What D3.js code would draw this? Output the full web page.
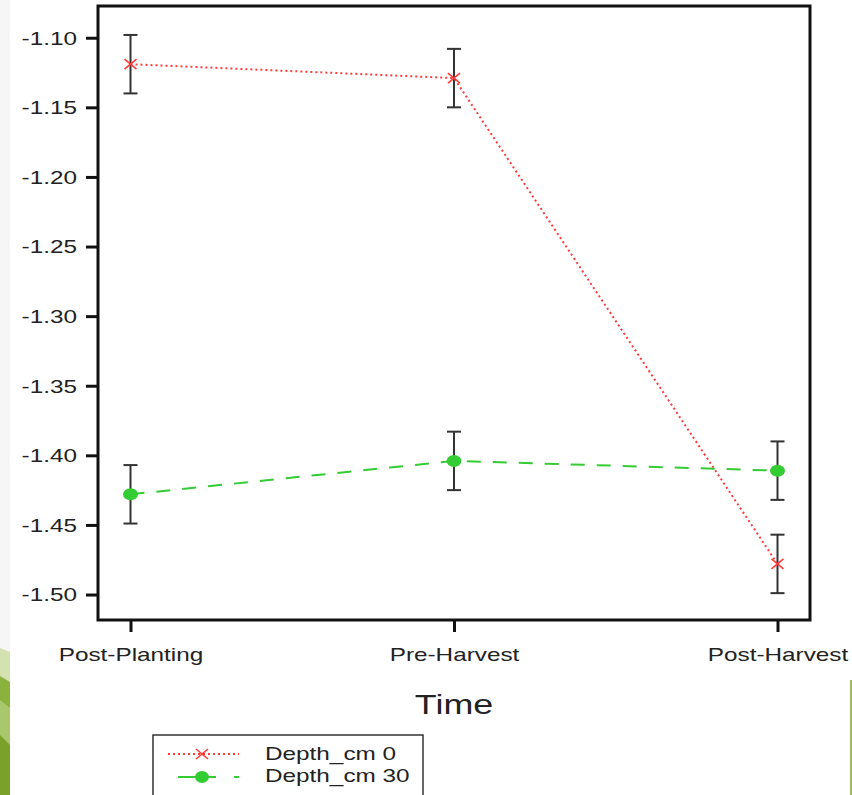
<!DOCTYPE html>
<html>
<head>
<meta charset="utf-8">
<script src="https://cdn.jsdelivr.net/npm/d3@7"></script>
<style>
  html, body { margin: 0; padding: 0; background: #fff; }
  svg { display: block; }
  text { font-family: "Liberation Sans", Arial, sans-serif; fill: #222; }
</style>
</head>
<body>
<script>
// Estimated marginal means by sampling time and depth
const categories = ["Post-Planting", "Pre-Harvest", "Post-Harvest"];
const depth0 = [-1.119, -1.129, -1.478];
const depth30 = [-1.428, -1.404, -1.411];
const err0 = [0.021, 0.021, 0.021];
const err30 = [0.021, 0.021, 0.021];
const yTicks = [-1.10, -1.15, -1.20, -1.25, -1.30, -1.35, -1.40, -1.45, -1.50];
const seriesNames = ["Depth_cm 0", "Depth_cm 30"];

const W = 852, H = 795;
const SX = 1.28; // horizontal text stretch
const box = { left: 98, top: 6, right: 810, bottom: 620 };

const svg = d3.select("body").append("svg")
  .attr("width", W).attr("height", H);

// page background and edge decoration
svg.append("rect").attr("width", W).attr("height", H).attr("fill", "#ffffff");
svg.append("rect").attr("x", 0).attr("y", 0).attr("width", 10).attr("height", H).attr("fill", "#f6f6f6");
const deco = svg.append("g");
deco.append("path").attr("d", "M0,648 L10,652 L10,795 L0,795 Z").attr("fill", "#d3e2b0");
deco.append("path").attr("d", "M0,676 L10,682 L10,795 L0,795 Z").attr("fill", "#8cb23e");
deco.append("path").attr("d", "M0,700 L10,708 L10,750 L0,742 Z").attr("fill", "#a9c76c");
deco.append("path").attr("d", "M0,735 L10,745 L10,795 L0,795 Z").attr("fill", "#7aa12a");
deco.append("rect").attr("x", 850).attr("y", 680).attr("width", 2).attr("height", 115).attr("fill", "#9cbc5c");

const x = d3.scalePoint().domain(categories).range([130.5, 777.5]);
const y = d3.scaleLinear().domain([-1.5183, -1.0772]).range([box.bottom, box.top]);

// frame
svg.append("rect")
  .attr("x", box.left).attr("y", box.top)
  .attr("width", box.right - box.left).attr("height", box.bottom - box.top)
  .attr("fill", "none").attr("stroke", "#111").attr("stroke-width", 3);

// y axis
const yAxis = svg.append("g")
  .attr("transform", `translate(${box.left},0)`)
  .call(d3.axisLeft(y).tickValues(yTicks).tickSize(12).tickSizeOuter(0)
    .tickFormat(d => d.toFixed(2)));
yAxis.select(".domain").remove();
yAxis.selectAll(".tick line").attr("stroke", "#111").attr("stroke-width", 3);
yAxis.selectAll(".tick text")
  .attr("x", -21 / SX).attr("dy", "0.34em")
  .attr("transform", `scale(${SX},1)`)
  .style("font-size", "19px").style("font-family", "Liberation Sans, Arial, sans-serif")
  .attr("fill", "#222");

// x axis
const xAxis = svg.append("g")
  .attr("transform", `translate(0,${box.bottom})`)
  .call(d3.axisBottom(x).tickSize(12).tickSizeOuter(0));
xAxis.select(".domain").remove();
xAxis.selectAll(".tick line").attr("stroke", "#111").attr("stroke-width", 3);
xAxis.selectAll(".tick text")
  .attr("y", 41).attr("dy", 0)
  .attr("transform", `scale(${SX},1)`)
  .style("font-size", "19px").style("font-family", "Liberation Sans, Arial, sans-serif")
  .attr("fill", "#222");

// axis title
svg.append("text")
  .attr("transform", `translate(454,714) scale(${SX},1)`)
  .attr("text-anchor", "middle")
  .style("font-size", "28px")
  .text("Time");

const red = "#ff3b3b", green = "#33cc33";

// connecting lines
const line = d3.line().x((d, i) => x(categories[i])).y(d => y(d));
svg.append("path").datum(depth0).attr("d", line)
  .attr("fill", "none").attr("stroke", red).attr("stroke-width", 2)
  .attr("stroke-dasharray", "2,3");
svg.append("path").datum(depth30).attr("d", line)
  .attr("fill", "none").attr("stroke", green).attr("stroke-width", 2)
  .attr("stroke-dasharray", "14,12");

// error bars
function errorBars(vals, errs) {
  const g = svg.append("g").attr("stroke", "#333").attr("stroke-width", 2);
  vals.forEach((v, i) => {
    const cx = x(categories[i]);
    const y1 = y(v + errs[i]), y2 = y(v - errs[i]);
    g.append("line").attr("x1", cx).attr("x2", cx).attr("y1", y1).attr("y2", y2);
    g.append("line").attr("x1", cx - 7).attr("x2", cx + 7).attr("y1", y1).attr("y2", y1);
    g.append("line").attr("x1", cx - 7).attr("x2", cx + 7).attr("y1", y2).attr("y2", y2);
  });
}
errorBars(depth0, err0);
errorBars(depth30, err30);

// markers
function cross(g, cx, cy) {
  g.append("path")
    .attr("d", `M${cx - 6},${cy - 5}L${cx + 6},${cy + 5}M${cx - 6},${cy + 5}L${cx + 6},${cy - 5}`)
    .attr("stroke", red).attr("stroke-width", 1.6).attr("fill", "none");
}
const mk = svg.append("g");
depth0.forEach((v, i) => cross(mk, x(categories[i]), y(v)));
depth30.forEach((v, i) => {
  mk.append("ellipse").attr("cx", x(categories[i])).attr("cy", y(v))
    .attr("rx", 7.5).attr("ry", 6).attr("fill", green);
});

// legend
const lg = svg.append("g");
lg.append("rect").attr("x", 153).attr("y", 735).attr("width", 270).attr("height", 80)
  .attr("fill", "#fff").attr("stroke", "#333").attr("stroke-width", 1.5);
lg.append("line").attr("x1", 168).attr("x2", 239).attr("y1", 754).attr("y2", 754)
  .attr("stroke", red).attr("stroke-width", 2).attr("stroke-dasharray", "2,3");
cross(lg, 202, 754);
lg.append("line").attr("x1", 178).attr("x2", 239).attr("y1", 777).attr("y2", 777)
  .attr("stroke", green).attr("stroke-width", 2).attr("stroke-dasharray", "38,18");
lg.append("ellipse").attr("cx", 202).attr("cy", 777).attr("rx", 7).attr("ry", 6).attr("fill", green);
seriesNames.forEach((n, i) => {
  lg.append("text")
    .attr("transform", `translate(265,${760 + i * 22}) scale(${SX},1)`)
    .style("font-size", "19px")
    .text(n);
});
</script>
</body>
</html>
